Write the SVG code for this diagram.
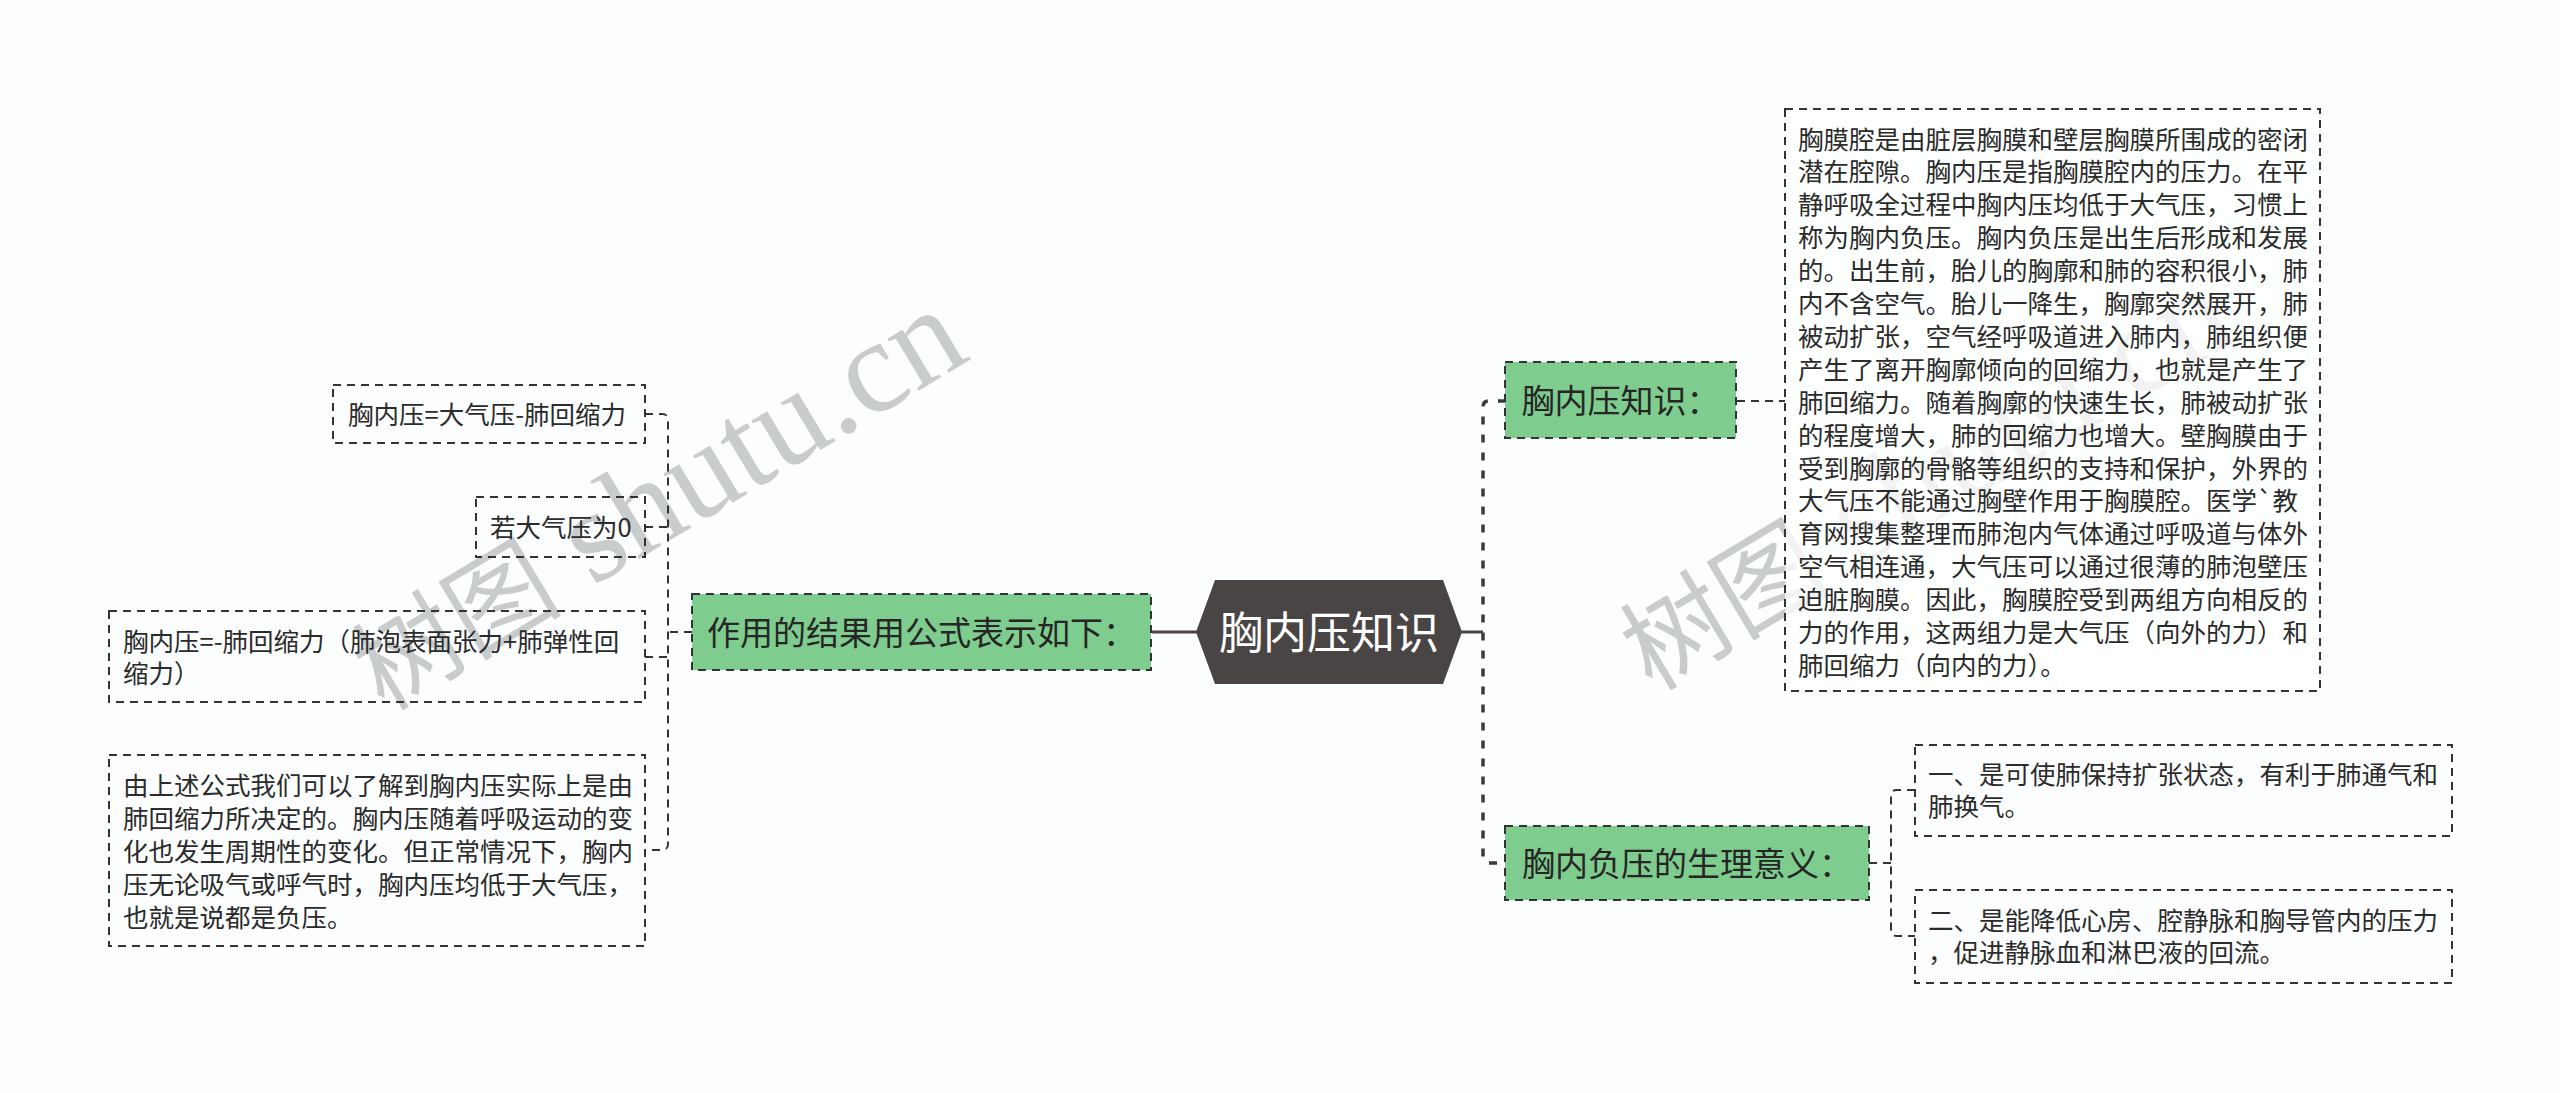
<svg xmlns="http://www.w3.org/2000/svg" width="2560" height="1093" viewBox="0 0 2560 1093">
<style>
.t{font-family:'Noto Sans CJK SC','Noto Sans',sans-serif;fill:#2b2b2b;font-size:25.5px}
.g{font-family:'Noto Sans CJK SC','Noto Sans',sans-serif;fill:#262626;font-size:33px;text-anchor:middle}
.c{font-family:'Noto Sans CJK SC','Noto Sans',sans-serif;fill:#ffffff;font-size:44px;text-anchor:middle}
.box{fill:none;stroke:#333;stroke-width:2;stroke-dasharray:8 6}
.gbox{fill:#7fcc8f;stroke:#333;stroke-width:2;stroke-dasharray:8 6}
.thin{fill:none;stroke:#333;stroke-width:2;stroke-dasharray:8 6}
.thick{fill:none;stroke:#3d3939;stroke-width:3.5;stroke-dasharray:8 10}
.solid{fill:none;stroke:#4a4545;stroke-width:3}
.wm{fill:#c9cccd}
</style>
<rect x="0" y="0" width="2560" height="1093" fill="#fbfdfe"/>
<g id="watermarks">
<text class="wm" transform="translate(384,712) rotate(-31)"><tspan font-family="'Noto Sans CJK SC',sans-serif" font-size="105">树图</tspan><tspan font-family="'Liberation Serif',serif" font-size="132"> shutu.cn</tspan></text>
<text class="wm" transform="translate(1652,692) rotate(-31)"><tspan font-family="'Noto Sans CJK SC',sans-serif" font-size="105">树图</tspan><tspan font-family="'Liberation Serif',serif" font-size="132"> shutu.cn</tspan></text>
</g>
<g id="connectors">
<path class="solid" d="M1152,632 H1197"/>
<path class="solid" d="M1461,632 H1483"/>
<path class="thick" d="M1506,401 H1489 Q1483,401 1483,407 V857 Q1483,863 1489,863 H1506"/>
<path class="thin" d="M1737,401 H1785"/>
<path class="thin" d="M1869,863 H1891"/>
<path class="thin" d="M1915,790 H1897 Q1891,790 1891,796 V930 Q1891,936 1897,936 H1915"/>
<path class="thin" d="M692,632 H668"/>
<path class="thin" d="M645,414 H662 Q668,414 668,420 V844 Q668,850 662,850 H645"/>
<path class="thin" d="M645,527 H668"/>
<path class="thin" d="M645,657 H668"/>
</g>
<g id="root">
<polygon points="1196,632 1215,580 1443,580 1462,632 1443,684 1215,684" fill="#4a4545"/>
<text class="c" x="1329" y="648.5">胸内压知识</text>
</g>
<g id="n-formula-head">
<rect class="gbox" x="692" y="594" width="459" height="76"/>
<text class="g" x="921.5" y="644.5">作用的结果用公式表示如下：</text>
</g>
<g id="n-f1">
<rect class="box" x="333" y="385" width="312" height="58"/>
<text class="t" x="348" y="423.5">胸内压=大气压-肺回缩力</text>
</g>
<g id="n-f2">
<rect class="box" x="476" y="497" width="169" height="60"/>
<text class="t" x="490" y="536.5">若大气压为0</text>
</g>
<g id="n-f3">
<rect class="box" x="109" y="611" width="536" height="91"/>
<text class="t" x="123" y="650.5">胸内压=-肺回缩力（肺泡表面张力+肺弹性回</text>
<text class="t" x="123" y="682.5">缩力）</text>
</g>
<g id="n-f4">
<rect class="box" x="109" y="755" width="536" height="191"/>
<text class="t" x="123" y="794.5">由上述公式我们可以了解到胸内压实际上是由</text>
<text class="t" x="123" y="827.5">肺回缩力所决定的。胸内压随着呼吸运动的变</text>
<text class="t" x="123" y="860.5">化也发生周期性的变化。但正常情况下，胸内</text>
<text class="t" x="123" y="893.5">压无论吸气或呼气时，胸内压均低于大气压，</text>
<text class="t" x="123" y="926.5">也就是说都是负压。</text>
</g>
<g id="n-knowledge">
<rect class="gbox" x="1505" y="362" width="231" height="76"/>
<text class="g" x="1620.5" y="412.5">胸内压知识：</text>
</g>
<g id="n-detail">
<rect class="box" x="1785" y="109" width="535" height="582" style="fill:#ffffff;fill-opacity:0.75"/>
<text class="t" x="1798" y="148.5">胸膜腔是由脏层胸膜和壁层胸膜所围成的密闭</text>
<text class="t" x="1798" y="181.4">潜在腔隙。胸内压是指胸膜腔内的压力。在平</text>
<text class="t" x="1798" y="214.3">静呼吸全过程中胸内压均低于大气压，习惯上</text>
<text class="t" x="1798" y="247.2">称为胸内负压。胸内负压是出生后形成和发展</text>
<text class="t" x="1798" y="280.1">的。出生前，胎儿的胸廓和肺的容积很小，肺</text>
<text class="t" x="1798" y="313.0">内不含空气。胎儿一降生，胸廓突然展开，肺</text>
<text class="t" x="1798" y="345.9">被动扩张，空气经呼吸道进入肺内，肺组织便</text>
<text class="t" x="1798" y="378.8">产生了离开胸廓倾向的回缩力，也就是产生了</text>
<text class="t" x="1798" y="411.7">肺回缩力。随着胸廓的快速生长，肺被动扩张</text>
<text class="t" x="1798" y="444.6">的程度增大，肺的回缩力也增大。壁胸膜由于</text>
<text class="t" x="1798" y="477.5">受到胸廓的骨骼等组织的支持和保护，外界的</text>
<text class="t" x="1798" y="510.4">大气压不能通过胸壁作用于胸膜腔。医学`教</text>
<text class="t" x="1798" y="543.3">育网搜集整理而肺泡内气体通过呼吸道与体外</text>
<text class="t" x="1798" y="576.2">空气相连通，大气压可以通过很薄的肺泡壁压</text>
<text class="t" x="1798" y="609.1">迫脏胸膜。因此，胸膜腔受到两组方向相反的</text>
<text class="t" x="1798" y="642.0">力的作用，这两组力是大气压（向外的力）和</text>
<text class="t" x="1798" y="674.9">肺回缩力（向内的力）。</text>
</g>
<g id="n-negative">
<rect class="gbox" x="1505" y="826" width="364" height="74"/>
<text class="g" x="1687" y="875.5">胸内负压的生理意义：</text>
</g>
<g id="n-neg1">
<rect class="box" x="1915" y="745" width="537" height="91"/>
<text class="t" x="1928" y="784">一、是可使肺保持扩张状态，有利于肺通气和</text>
<text class="t" x="1928" y="816">肺换气。</text>
</g>
<g id="n-neg2">
<rect class="box" x="1915" y="890" width="537" height="93"/>
<text class="t" x="1928" y="930">二、是能降低心房、腔静脉和胸导管内的压力</text>
<text class="t" x="1928" y="962">，促进静脉血和淋巴液的回流。</text>
</g>
</svg>
